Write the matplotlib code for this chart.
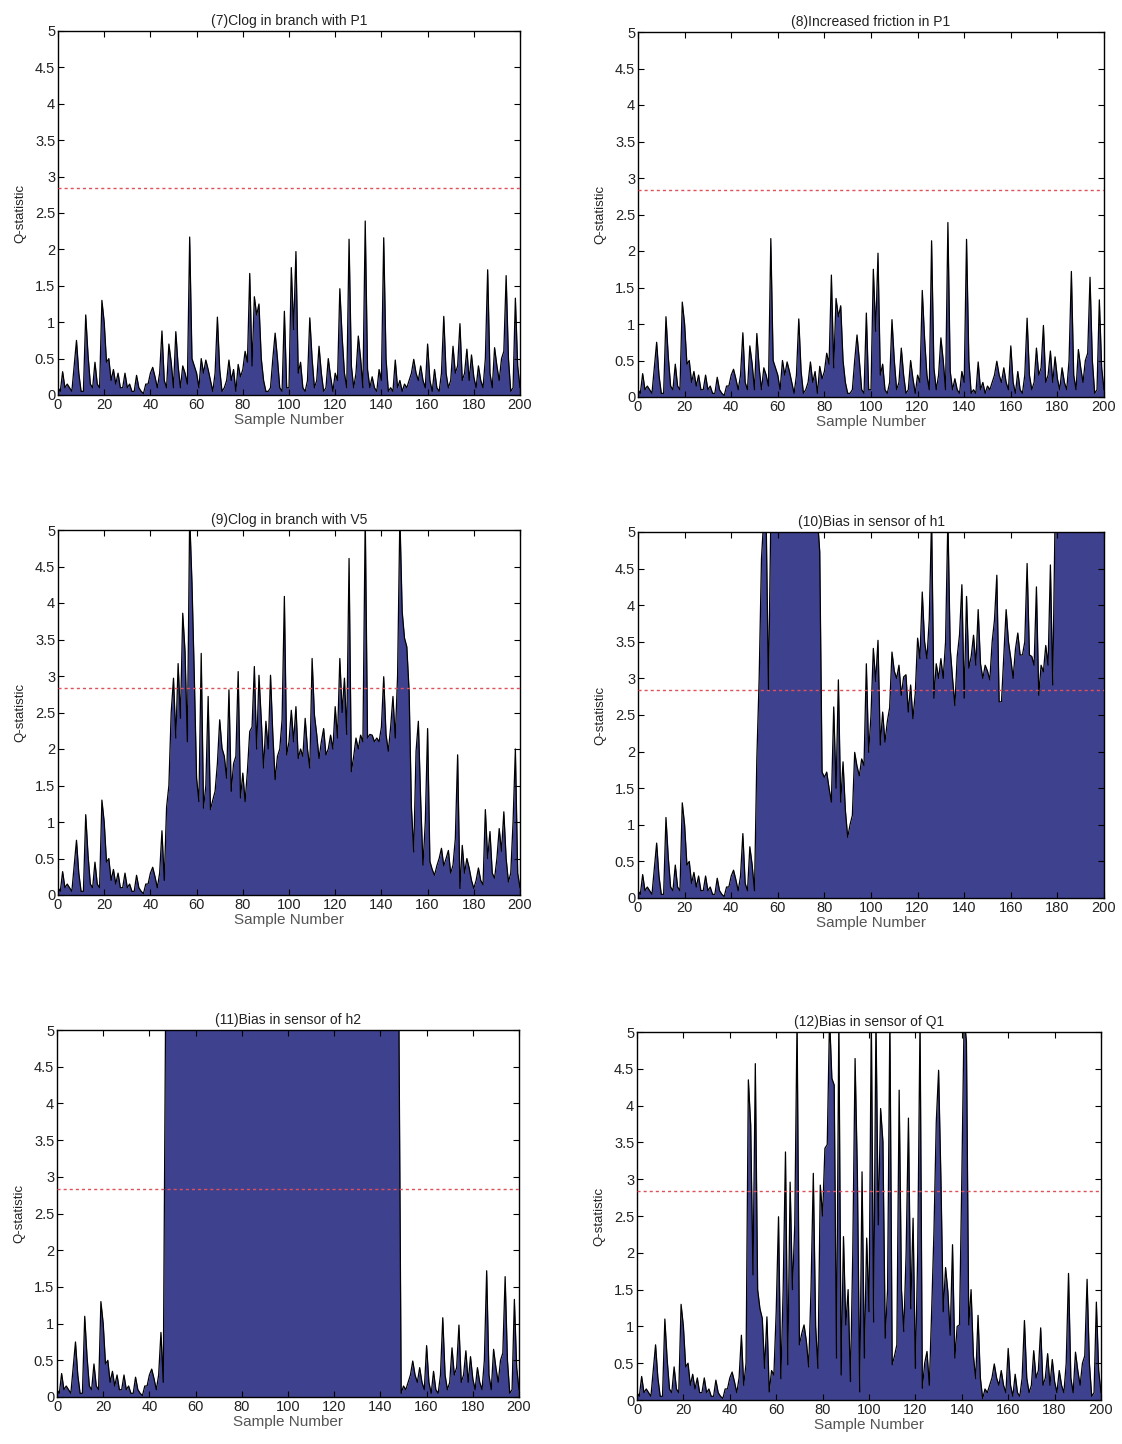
import numpy as np
import matplotlib
matplotlib.use("Agg")
import matplotlib.pyplot as plt

plt.rcParams['font.family'] = ['Liberation Sans Narrow', 'Liberation Sans', 'DejaVu Sans']

# Q-statistic under normal operation, samples 0..200
base_q = [
    0.10, 0.05, 0.32, 0.10, 0.15, 0.10, 0.05, 0.40, 0.75, 0.30,
    0.05, 0.05, 1.10, 0.55, 0.15, 0.10, 0.45, 0.15, 0.10, 1.30,
    1.00, 0.45, 0.50, 0.20, 0.35, 0.15, 0.30, 0.10, 0.10, 0.30,
    0.10, 0.15, 0.05, 0.05, 0.27, 0.10, 0.05, 0.02, 0.15, 0.15,
    0.30, 0.38, 0.25, 0.10, 0.30, 0.88, 0.20, 0.10, 0.70, 0.45,
    0.10, 0.87, 0.40, 0.10, 0.40, 0.30, 0.15, 2.17, 0.50, 0.40,
    0.30, 0.10, 0.50, 0.30, 0.48, 0.35, 0.20, 0.05, 0.30, 1.07,
    0.35, 0.05, 0.10, 0.20, 0.48, 0.20, 0.35, 0.05, 0.42, 0.25,
    0.35, 0.60, 0.45, 1.67, 0.40, 1.35, 1.10, 1.25, 0.50, 0.20,
    0.05, 0.05, 0.10, 0.50, 0.85, 0.50, 0.10, 0.05, 1.15, 0.10,
    0.10, 1.75, 0.90, 1.97, 0.30, 0.45, 0.10, 0.05, 0.20, 1.06,
    0.50, 0.10, 0.20, 0.67, 0.30, 0.05, 0.10, 0.50, 0.25, 0.05,
    0.30, 0.20, 1.46, 0.80, 0.30, 0.10, 2.14, 0.40, 0.10, 0.30,
    0.81, 0.50, 0.10, 2.39, 0.35, 0.10, 0.25, 0.10, 0.05, 0.35,
    0.20, 2.16, 0.50, 0.05, 0.10, 0.05, 0.48, 0.10, 0.20, 0.05,
    0.15, 0.10, 0.20, 0.30, 0.49, 0.30, 0.20, 0.40, 0.20, 0.10,
    0.70, 0.20, 0.05, 0.35, 0.10, 0.05, 0.30, 1.08, 0.30, 0.10,
    0.20, 0.67, 0.30, 0.40, 0.98, 0.20, 0.30, 0.63, 0.20, 0.55,
    0.25, 0.10, 0.40, 0.20, 0.10, 0.50, 1.72, 0.30, 0.10, 0.65,
    0.40, 0.20, 0.50, 0.60, 1.64, 0.50, 0.05, 0.10, 1.33, 0.40,
    0.10,
]

# Values above the axis limit are drawn at this level
SAT = 5.2

# (9) clog in branch with V5: samples 47..200
v5_start = 47
v5_q = [
    1.20, 1.50, 2.50, 2.97, 2.15, 3.17, 2.42, 3.86, 3.33, 2.10,
    SAT, 4.27, 3.00, 1.60, 1.28, 3.31, 1.19, 1.50, 2.72, 1.17,
    1.30, 1.42, 1.80, 2.40, 2.01, 1.90, 1.60, 2.81, 1.42, 1.80,
    1.90, 3.06, 1.33, 1.67, 1.28, 1.70, 2.24, 2.30, 3.13, 2.00,
    3.01, 2.40, 1.74, 2.38, 2.00, 3.01, 2.20, 1.58, 1.90, 2.00,
    2.40, 4.09, 1.92, 2.10, 2.53, 2.10, 2.58, 1.87, 2.00, 1.90,
    2.42, 2.00, 1.74, 3.24, 2.47, 2.20, 1.87, 2.10, 2.28, 1.92,
    2.00, 2.19, 2.00, 2.58, 2.15, 3.24, 2.50, 2.97, 2.20, 4.61,
    1.69, 1.90, 2.15, 2.00, 2.19, 2.10, SAT, 2.15, 2.20, 2.19,
    2.10, 2.15, 2.10, 2.30, 2.99, 2.20, 1.97, 2.30, 2.72, 2.15,
    3.00, SAT, 3.88, 3.52, 3.40, 2.79, 1.20, 0.59, 1.97, 2.38,
    1.30, 0.41, 1.00, 2.28, 0.46, 0.35, 0.27, 0.40, 0.50, 0.64,
    0.40, 0.50, 0.61, 0.30, 0.41, 0.77, 1.92, 0.09, 0.68, 0.30,
    0.50, 0.37, 0.20, 0.09, 0.20, 0.37, 0.20, 0.14, 1.17, 0.50,
    0.87, 0.30, 0.23, 0.50, 0.91, 0.60, 1.14, 0.50, 0.18, 0.30,
    1.00, 2.00, 0.30, 0.10,
]

# (10) bias in sensor of h1: samples 51..200
h1_start = 51
h1_q = [
    1.90, 3.00, 4.64, SAT, SAT, 2.84, SAT, SAT, SAT, SAT,
    SAT, SAT, SAT, SAT, SAT, SAT, SAT, SAT, SAT, SAT,
    SAT, SAT, SAT, SAT, SAT, SAT, SAT, 4.73, 1.72, 1.65,
    1.72, 1.50, 1.31, 2.61, 1.50, 2.98, 1.31, 1.86, 1.20, 0.83,
    1.00, 1.13, 1.99, 1.80, 1.67, 1.90, 1.81, 3.20, 1.99, 2.50,
    3.41, 2.96, 3.52, 2.09, 2.54, 2.13, 2.41, 2.60, 3.36, 3.10,
    3.00, 3.18, 2.77, 3.02, 3.05, 2.54, 2.91, 2.45, 2.80, 3.55,
    3.27, 4.18, 3.50, 3.27, 3.80, SAT, 2.73, 3.20, 3.00, 3.27,
    3.00, 3.50, SAT, 3.41, 3.00, 2.63, 3.30, 3.60, 4.28, 2.73,
    4.12, 3.14, 3.30, 3.59, 3.18, 3.94, 3.20, 3.00, 3.18, 3.10,
    2.98, 3.50, 3.80, 4.41, 2.68, 2.68, 3.30, 3.94, 3.50, 3.27,
    3.00, 3.40, 3.62, 3.32, 3.32, 3.50, 4.57, 3.32, 3.30, 3.18,
    4.25, 2.77, 3.18, 3.09, 3.45, 3.18, 4.55, 2.91, SAT, SAT,
    SAT, SAT, SAT, SAT, SAT, SAT, SAT, SAT, SAT, SAT,
    SAT, SAT, SAT, SAT, SAT, SAT, SAT, SAT, SAT, SAT,
]

# (11) bias in sensor of h2: saturated over samples 47..148
h2_span = (47, 148)

# (12) bias in sensor of Q1: samples 47..149
q1_start = 47
q1_q = [
    0.50, 4.35, 3.74, 1.70, 4.57, 1.50, 1.24, 1.11, 0.43, 1.13,
    0.11, 0.40, 0.34, 1.20, 2.49, 0.29, 1.50, 3.37, 0.48, 2.96,
    1.50, 2.38, SAT, 0.75, 0.90, 1.02, 0.80, 0.45, 1.50, 3.08,
    1.00, 0.43, 2.92, 2.50, 3.42, 3.47, SAT, 4.37, 4.28, 0.57,
    SAT, 0.34, 2.22, 1.02, 1.50, 0.25, 2.00, 4.64, 3.06, 0.11,
    3.10, 0.57, 2.20, 1.20, SAT, 1.06, SAT, 2.38, 3.96, 3.51,
    0.84, 1.50, SAT, 0.48, 0.60, 0.75, 4.21, 1.50, 0.93, 2.00,
    3.83, 1.24, 2.47, 0.43, 2.00, SAT, 0.16, 0.50, 0.66, 0.20,
    1.20, 2.29, 3.78, 4.48, 3.00, 1.20, 1.80, 1.47, 0.88, 2.11,
    0.57, 1.00, 1.02, 3.00, SAT, 4.87, 1.02, 1.50, 0.60, 0.29,
    1.15, 0.30, 0.02,
]

threshold = 2.84

titles = [
    "(7)Clog in branch with P1",
    "(8)Increased friction in P1",
    "(9)Clog in branch with V5",
    "(10)Bias in sensor of h1",
    "(11)Bias in sensor of h2",
    "(12)Bias in sensor of Q1",
]

x_ticks = list(range(0, 201, 20))
y_ticks = [0, 0.5, 1, 1.5, 2, 2.5, 3, 3.5, 4, 4.5, 5]
y_tick_labels = ["0", "0.5", "1", "1.5", "2", "2.5", "3", "3.5", "4", "4.5", "5"]


def splice(seg, start):
    q = np.array(base_q, dtype=float)
    q[start:start + len(seg)] = seg
    return q


base = np.array(base_q, dtype=float)
q11 = base.copy()
q11[h2_span[0]:h2_span[1] + 1] = SAT

series = [
    base,
    base,
    splice(v5_q, v5_start),
    splice(h1_q, h1_start),
    q11,
    splice(q1_q, q1_start),
]

samples = np.arange(len(base_q))

FIG_W, FIG_H = 1122, 1444
# axes boxes in pixels: left, top, right, bottom
boxes = [
    (58, 31, 520, 395),
    (638, 32, 1104, 397),
    (58, 530, 520, 895),
    (638, 532, 1104, 898),
    (57, 1030, 519, 1397),
    (637, 1032, 1101, 1400),
]

fill_color = "#3e418e"
text_gray = "#222222"

fig = plt.figure(figsize=(FIG_W / 100, FIG_H / 100), dpi=100)
fig.patch.set_facecolor("white")

for title, q, (l, t, r, b) in zip(titles, series, boxes):
    ax = fig.add_axes([l / FIG_W, 1 - b / FIG_H, (r - l) / FIG_W, (b - t) / FIG_H])
    ax.fill_between(samples, 0, q, color=fill_color, linewidth=0, zorder=1)
    ax.plot(samples, q, color="black", linewidth=0.9, zorder=2)
    ax.axhline(threshold, color="#e0505a", linewidth=1.0,
               linestyle=(0, (2.2, 2.2)), zorder=3)
    ax.set_xlim(0, 200)
    ax.set_ylim(0, 5)
    ax.set_xticks(x_ticks)
    ax.set_yticks(y_ticks)
    ax.set_yticklabels(y_tick_labels)
    ax.tick_params(direction="in", top=True, right=True, length=4,
                   width=0.8, labelsize=10.5, pad=2, colors="black",
                   labelcolor=text_gray)
    for sp in ax.spines.values():
        sp.set_linewidth(1.0)
    ax.set_title(title, fontsize=10, pad=4, color=text_gray)
    ax.set_xlabel("Sample Number", fontsize=11, color="#555555", labelpad=1)
    ax.set_ylabel("Q-statistic", fontsize=9.5, color=text_gray, labelpad=6)

fig.savefig("out.png", dpi=100, facecolor="white")
